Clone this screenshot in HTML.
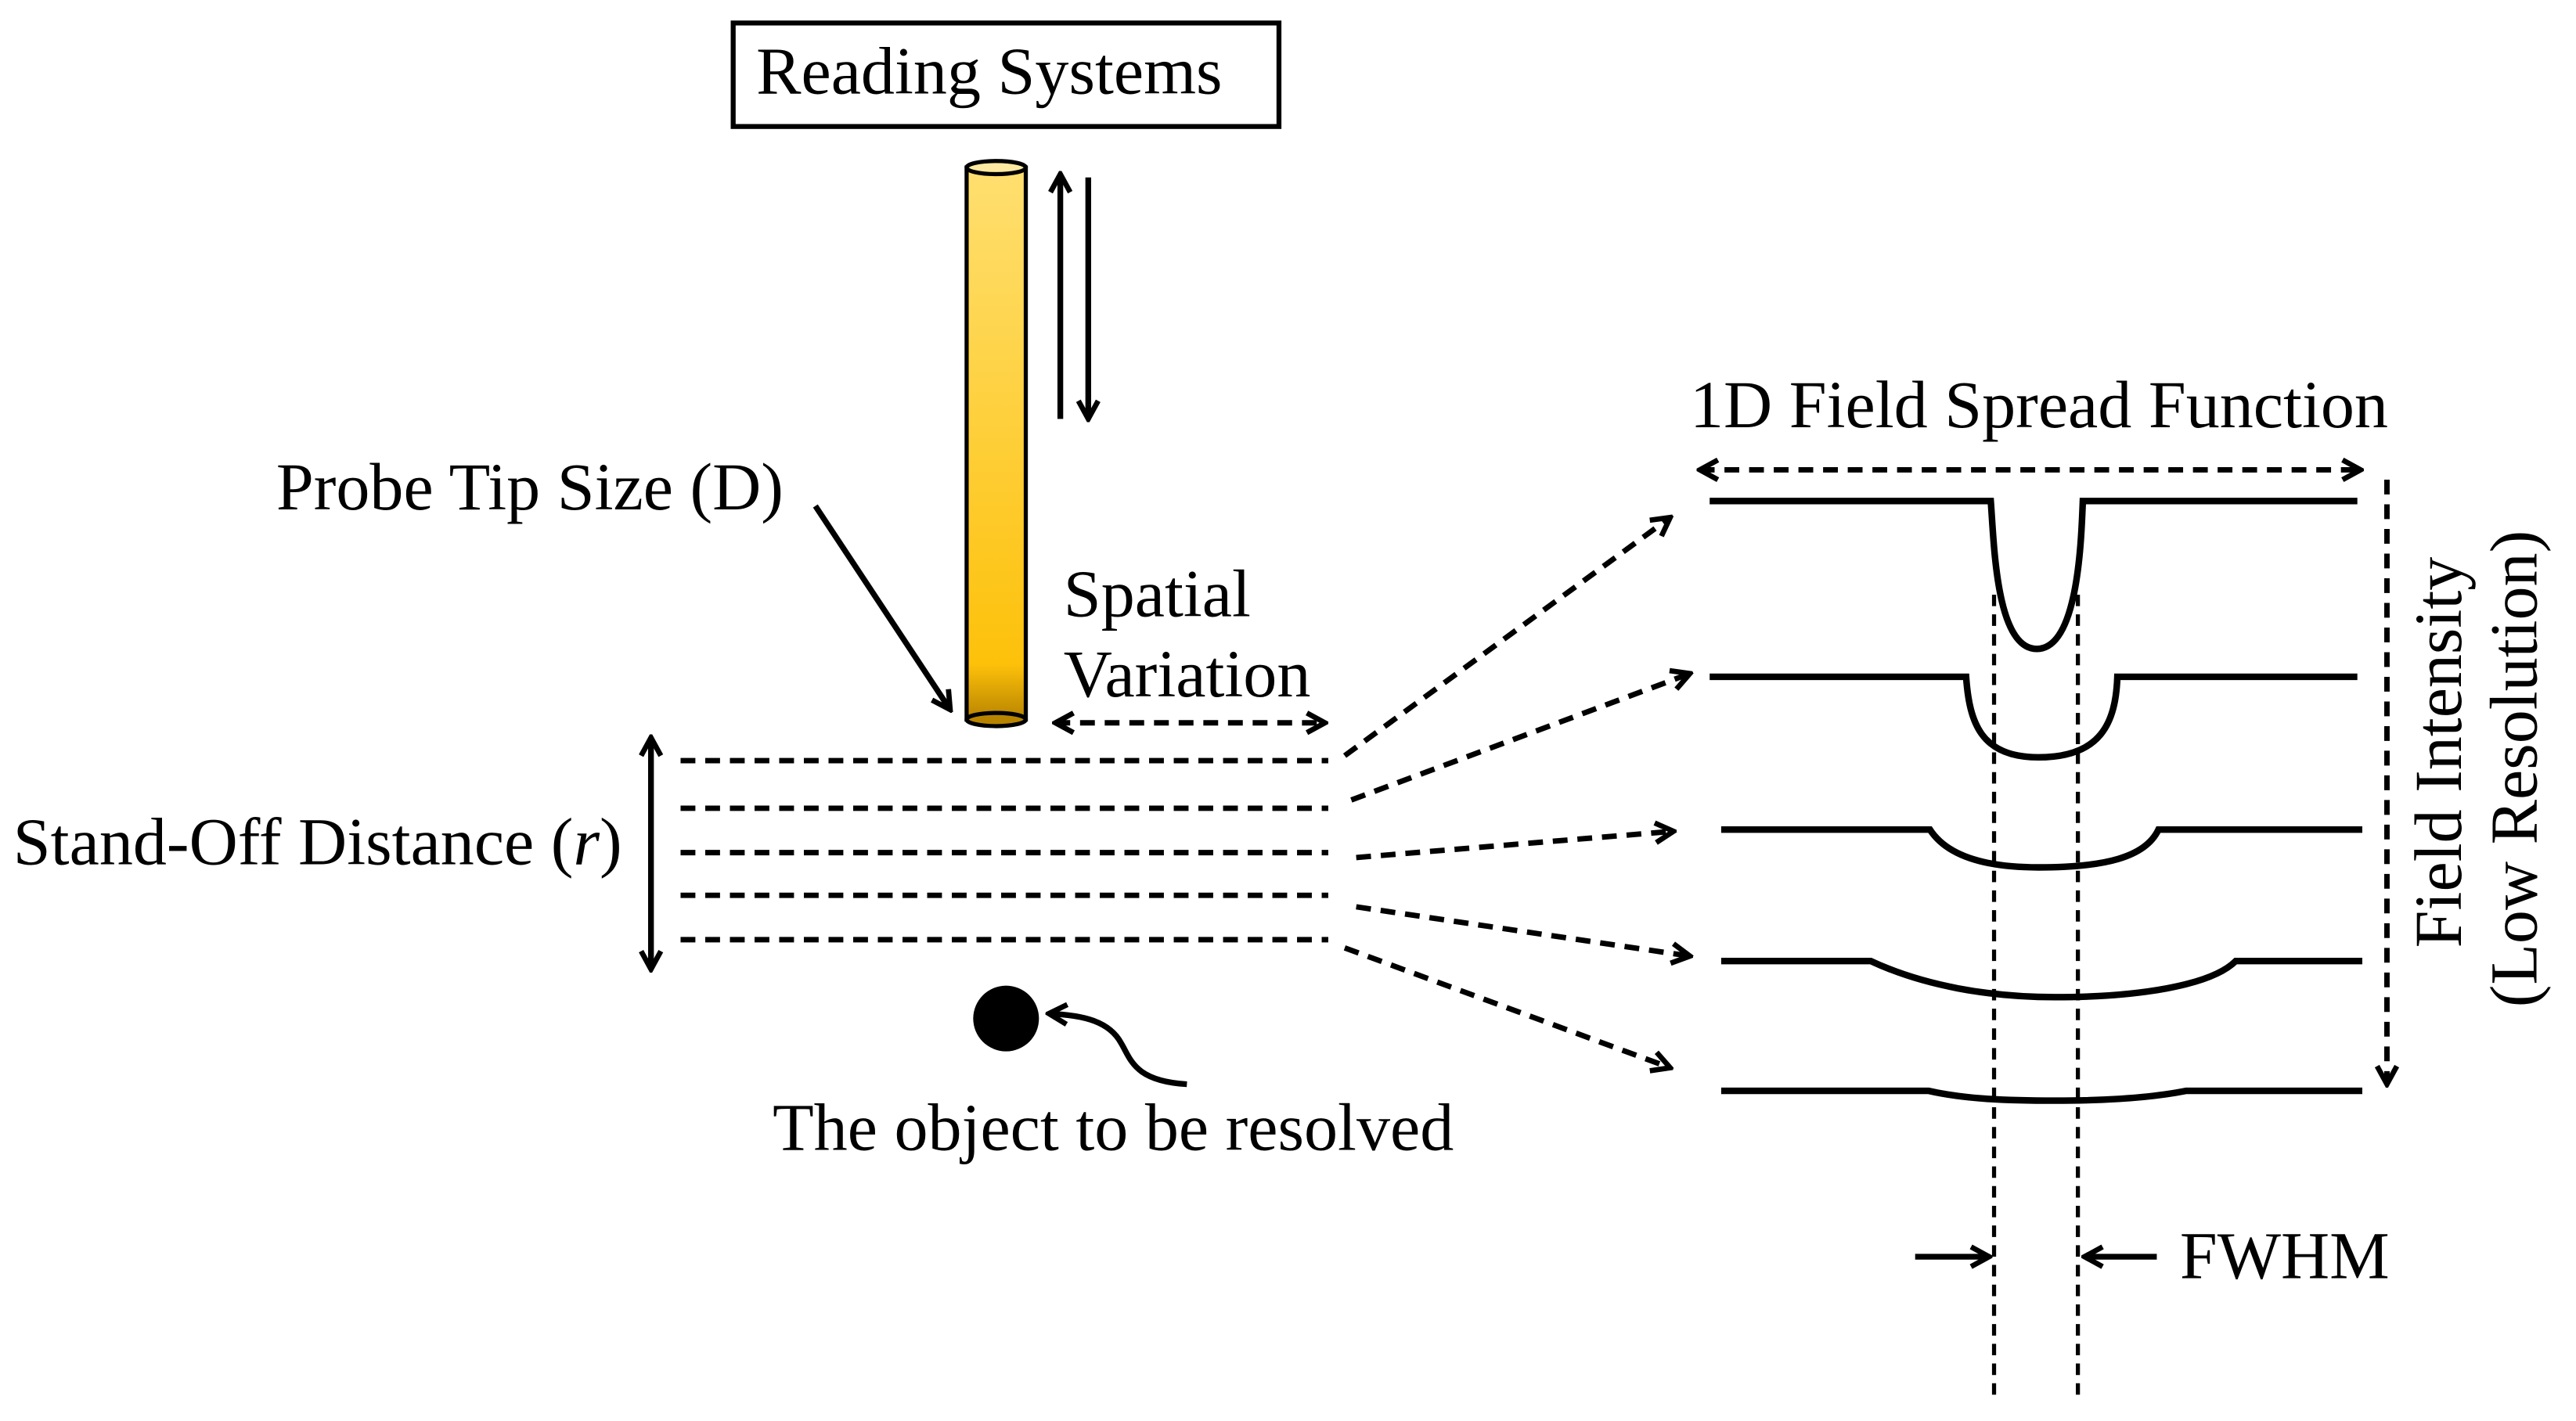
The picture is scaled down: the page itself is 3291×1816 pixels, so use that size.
<!DOCTYPE html>
<html><head><meta charset="utf-8"><style>html,body{margin:0;padding:0;background:#fff}svg{display:block}</style></head>
<body>
<svg width="3291" height="1816" viewBox="0 0 1567 865" preserveAspectRatio="none" xmlns="http://www.w3.org/2000/svg" font-family="Liberation Serif, serif" font-size="41">
<defs>
<linearGradient id="g" x1="0" y1="0" x2="0" y2="1">
<stop offset="0" stop-color="#ffdf70"/><stop offset="0.9" stop-color="#fdc10a"/><stop offset="1" stop-color="#b88400"/>
</linearGradient>
<marker id="a" viewBox="0 0 16 16" refX="14" refY="8" markerWidth="16" markerHeight="16" orient="auto-start-reverse" markerUnits="userSpaceOnUse">
<path d="M3,2 L14,8 L3,14" fill="none" stroke="#000" stroke-width="3.2" stroke-linejoin="miter"/>
</marker>
</defs>
<rect x="446" y="14" width="332" height="63" fill="#fff" stroke="#000" stroke-width="3"/>
<text x="460" y="57">Reading Systems</text>
<rect x="588" y="102" width="36" height="336" fill="url(#g)" stroke="#000" stroke-width="2.5"/>
<ellipse cx="606" cy="438" rx="18" ry="4" fill="#b88400" stroke="#000" stroke-width="2.5"/>
<ellipse cx="606" cy="102" rx="18" ry="4" fill="#ffe9a0" stroke="#000" stroke-width="2.5"/>
<g stroke="#000" stroke-width="3.5" fill="none">
<line x1="645" y1="255" x2="645" y2="106" marker-end="url(#a)"/>
<line x1="662" y1="108" x2="662" y2="255" marker-end="url(#a)"/>
<line x1="496" y1="308" x2="578" y2="432" marker-end="url(#a)"/>
<line x1="396" y1="449" x2="396" y2="590" marker-start="url(#a)" marker-end="url(#a)"/>
<path d="M722,660 C690,658 688,645 682,635 C675,622 660,618 638,617" marker-end="url(#a)"/>
<line x1="1165" y1="765" x2="1210" y2="765" marker-end="url(#a)"/>
<line x1="1312" y1="765" x2="1268" y2="765" marker-end="url(#a)"/>
</g>
<g stroke="#000" stroke-width="3.3" fill="none" stroke-dasharray="9,6">
<line x1="642" y1="440" x2="806" y2="440" marker-start="url(#a)" marker-end="url(#a)"/>
<line x1="414" y1="463" x2="808" y2="463"/>
<line x1="414" y1="492" x2="808" y2="492"/>
<line x1="414" y1="519" x2="808" y2="519"/>
<line x1="414" y1="545" x2="808" y2="545"/>
<line x1="414" y1="572" x2="808" y2="572"/>
<line x1="818" y1="460" x2="1016" y2="315" marker-end="url(#a)"/>
<line x1="822" y1="487" x2="1028" y2="410" marker-end="url(#a)"/>
<line x1="825" y1="522" x2="1018" y2="506" marker-end="url(#a)"/>
<line x1="825" y1="552" x2="1028" y2="582" marker-end="url(#a)"/>
<line x1="818" y1="577" x2="1016" y2="650" marker-end="url(#a)"/>
<line x1="1034" y1="286" x2="1436" y2="286" marker-start="url(#a)" marker-end="url(#a)"/>
<line x1="1452" y1="292" x2="1452" y2="660" marker-end="url(#a)"/>
</g>
<g stroke="#000" stroke-width="2.5" stroke-dasharray="7,5">
<line x1="1213" y1="362" x2="1213" y2="852"/>
<line x1="1264" y1="362" x2="1264" y2="852"/>
</g>
<g stroke="#000" stroke-width="4" fill="none">
<path d="M1040,305 H1211 C1213,330 1214,395 1239,395 C1264,395 1266,330 1267,305 H1434"/>
<path d="M1040,412 H1196 C1198,440 1205,461 1240,461 C1278,461 1287,440 1288,412 H1434"/>
<path d="M1047,505 H1174 C1185,522 1210,528 1240,528 C1280,528 1305,522 1313,505 H1437"/>
<path d="M1047,585 H1138 C1170,600 1210,607 1250,607 C1300,607 1345,600 1360,585 H1437"/>
<path d="M1047,664 H1173 C1195,669 1220,670 1250,670 C1290,670 1315,667 1330,664 H1437"/>
</g>
<circle cx="612" cy="620" r="20" fill="#000"/>
<text x="168" y="310">Probe Tip Size (D)</text>
<text x="647" y="375">Spatial</text>
<text x="647" y="424">Variation</text>
<text x="8" y="526">Stand-Off Distance (<tspan font-style="italic">r</tspan>)</text>
<text x="470" y="700">The object to be resolved</text>
<text x="1028" y="260">1D Field Spread Function</text>
<text x="1326" y="778">FWHM</text>
<text transform="translate(1497,458) rotate(-90)" text-anchor="middle">Field Intensity</text>
<text transform="translate(1543,468) rotate(-90)" text-anchor="middle">(Low Resolution)</text>
</svg>
</body></html>
